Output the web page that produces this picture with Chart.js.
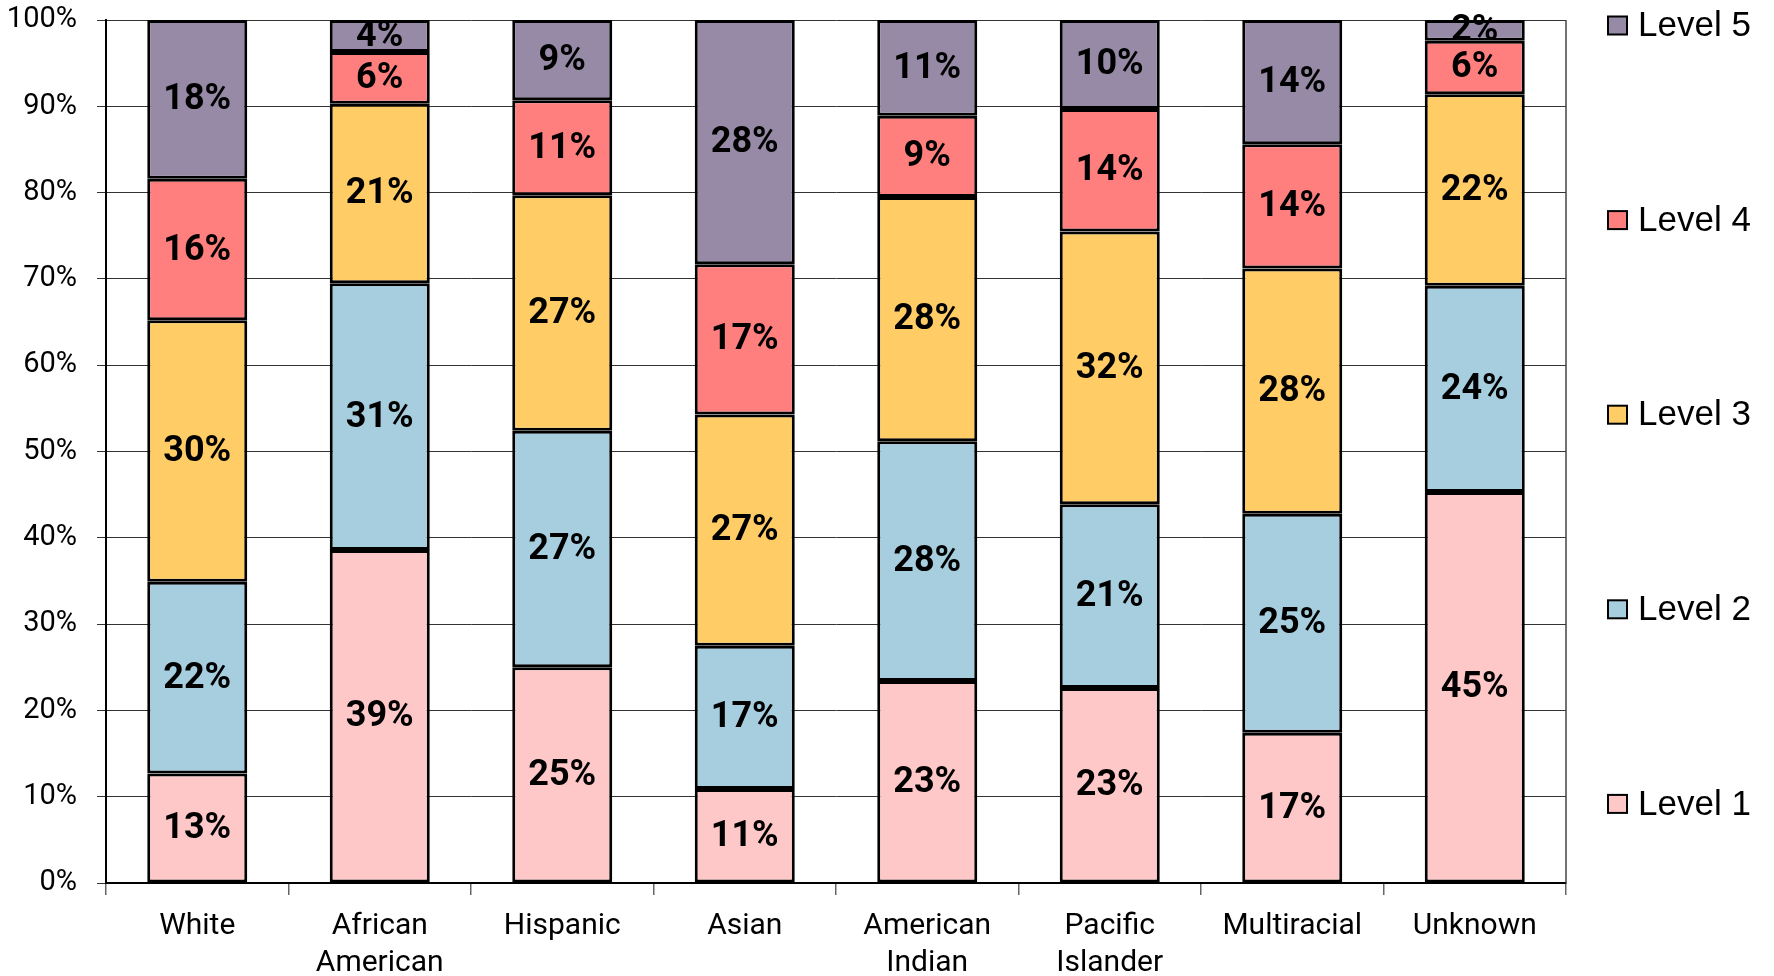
<!DOCTYPE html>
<html>
<head>
<meta charset="utf-8">
<script src="https://cdn.jsdelivr.net/npm/chart.js@4.4.1/dist/chart.umd.min.js"></script>
<style>
  html, body { margin: 0; padding: 0; background: #fff; }
  #wrap { width: 1774px; height: 976px; }
</style>
</head>
<body>
<div id="wrap"><canvas id="c" width="1774" height="976"></canvas></div>
<script>
const categories = [
  'White', ['African', 'American'], 'Hispanic', 'Asian',
  ['American', 'Indian'], ['Pacific', 'Islander'], 'Multiracial', 'Unknown'
];
const seriesNames = ['Level 1', 'Level 2', 'Level 3', 'Level 4', 'Level 5'];
const level1 = [12.7, 38.6, 25.0, 10.9, 23.4, 22.6, 17.4, 45.3];
const level2 = [22.2, 30.9, 27.4, 16.6, 27.8, 21.3, 25.4, 23.9];
const level3 = [30.3, 20.8, 27.3, 26.8, 28.3, 31.6, 28.4, 22.2];
const level4 = [16.4, 6.0, 11.0, 17.4, 9.4, 14.2, 14.4, 6.2];
const level5 = [18.4, 3.7, 9.3, 28.3, 11.1, 10.3, 14.4, 2.4];
const yTicks = [0, 10, 20, 30, 40, 50, 60, 70, 80, 90, 100];

const colors = ['#FFC8C8', '#A6CEDF', '#FFCC66', '#FF7F7F', '#968AA6'];
const seriesValues = [level1, level2, level3, level4, level5];

Chart.defaults.font.family = 'Roboto';
Chart.defaults.color = '#000';

const valueLabels = {
  id: 'valueLabels',
  afterDatasetsDraw(chart) {
    const ctx = chart.ctx;
    ctx.save();
    ctx.font = 'bold 36px Roboto';
    ctx.fillStyle = '#000';
    ctx.textAlign = 'center';
    ctx.textBaseline = 'middle';
    chart.data.datasets.forEach((ds, di) => {
      const meta = chart.getDatasetMeta(di);
      meta.data.forEach((el, i) => {
        const v = ds.data[i];
        const y = (el.y + el.base) / 2;
        ctx.fillText(Math.round(v) + '%', el.x, y + 1);
      });
    });
    ctx.restore();
  }
};

const frame = {
  id: 'frame',
  beforeDatasetsDraw(chart) {
    const {ctx, chartArea: a} = chart;
    ctx.save();
    ctx.strokeStyle = '#444';
    ctx.lineWidth = 1.5;
    ctx.beginPath();
    ctx.moveTo(a.right, a.top);
    ctx.lineTo(a.right, a.bottom);
    ctx.stroke();
    ctx.restore();
  }
};

const sideLegend = {
  id: 'sideLegend',
  afterDraw(chart) {
    const {ctx, chartArea: a} = chart;
    ctx.save();
    ctx.font = '35px "Liberation Sans"';
    ctx.textBaseline = 'middle';
    ctx.textAlign = 'left';
    const n = chart.data.datasets.length;
    for (let k = 0; k < n; k++) {
      const di = n - 1 - k;
      const ds = chart.data.datasets[di];
      const cy = a.top + 5.5 + k * 194.6;
      const x = a.right + 42;
      ctx.fillStyle = ds.backgroundColor;
      ctx.fillRect(x, cy - 9, 19, 18);
      ctx.strokeStyle = '#000';
      ctx.lineWidth = 2;
      ctx.strokeRect(x, cy - 9, 19, 18);
      ctx.fillStyle = '#000';
      ctx.fillText(ds.label, x + 30, cy + 1);
    }
    ctx.restore();
  }
};

new Chart(document.getElementById('c'), {
  type: 'bar',
  data: {
    labels: categories,
    datasets: seriesNames.map((name, i) => ({
      label: name,
      data: seriesValues[i],
      backgroundColor: colors[i],
      borderColor: '#000',
      borderWidth: 3,
      borderSkipped: false,
      categoryPercentage: 1.0,
      barPercentage: 0.548
    }))
  },
  options: {
    responsive: false,
    animation: false,
    devicePixelRatio: 1,
    layout: { padding: { left: 0, right: 208, top: 20, bottom: 0 } },
    plugins: {
      legend: { display: false },
      tooltip: { enabled: false }
    },
    scales: {
      x: {
        stacked: true,
        grid: {
          offset: true,
          drawOnChartArea: false,
          drawTicks: true,
          tickLength: 12,
          color: '#666',
          lineWidth: 1.5
        },
        border: { display: true, color: '#000', width: 2 },
        ticks: {
          font: { size: 30, family: 'Roboto', lineHeight: 1.23 },
          color: '#000',
          padding: 13,
          maxRotation: 0,
          autoSkip: false
        },
        afterFit(scale) { scale.height = 93; scale.paddingLeft = 0; scale.paddingRight = 0; }
      },
      y: {
        stacked: true,
        min: 0,
        max: 100,
        afterBuildTicks(scale) { scale.ticks = yTicks.map(v => ({ value: v })); },
        grid: {
          color: '#333',
          lineWidth: 1,
          drawTicks: true,
          tickLength: 9
        },
        border: { display: true, color: '#000', width: 2 },
        ticks: {
          font: { size: 29, family: 'Roboto' },
          color: '#000',
          padding: 20,
          callback: v => v + '%'
        },
        afterFit(scale) { scale.width = 106; scale.paddingTop = 0; scale.paddingBottom = 0; }
      }
    }
  },
  plugins: [frame, valueLabels, sideLegend]
});
</script>
</body>
</html>
